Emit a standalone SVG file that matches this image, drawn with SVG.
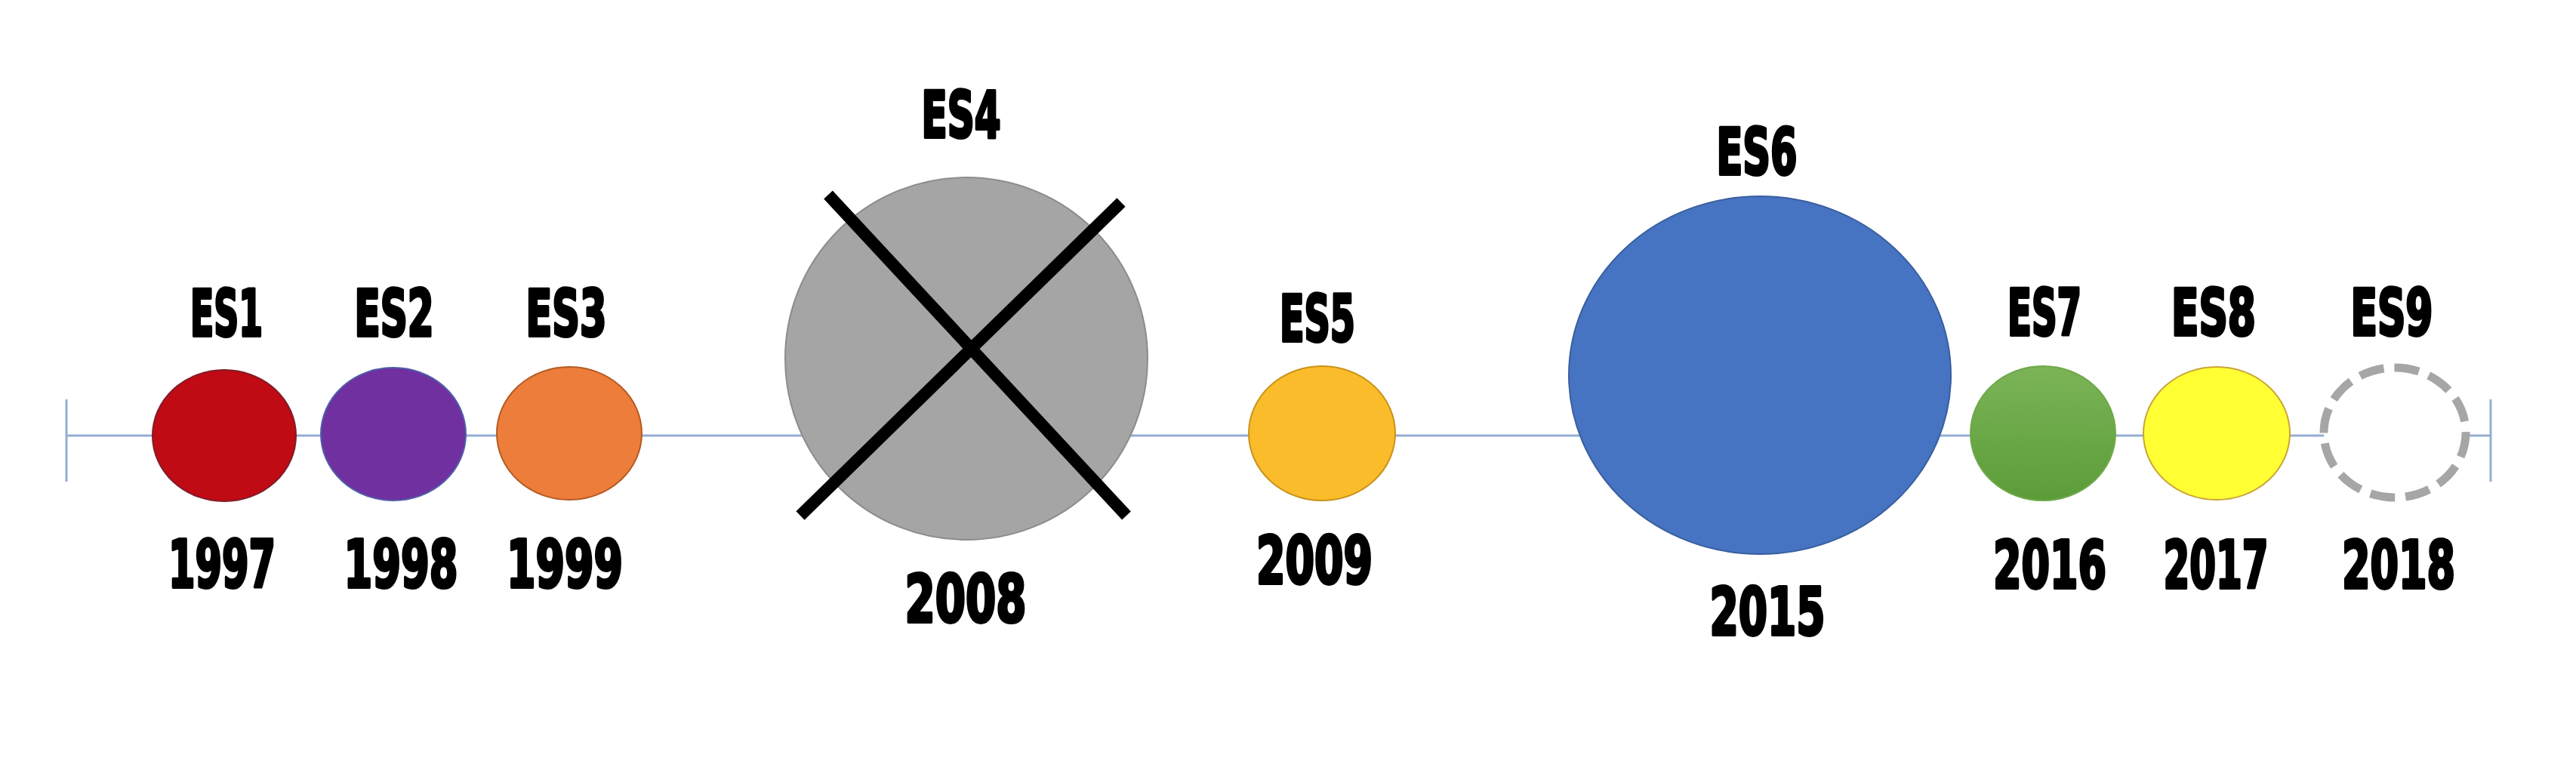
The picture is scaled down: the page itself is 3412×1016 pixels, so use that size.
<svg xmlns="http://www.w3.org/2000/svg" width="3412" height="1016" viewBox="0 0 3412 1016">
<style>
.lbl{font-family:"Liberation Sans Narrow","DejaVu Sans Condensed","Liberation Sans",sans-serif;font-weight:bold;fill:#000;stroke:#000;stroke-width:4;stroke-linejoin:round;text-anchor:middle}
.es{font-size:85px}
.yr{font-size:88px}
.axis{stroke:#94ADD2;stroke-width:3;fill:none}
.cross{stroke:#000;stroke-width:16;stroke-linecap:butt}
</style>
<defs>
<linearGradient id="gGreen" x1="0" y1="0" x2="0" y2="1">
<stop offset="0" stop-color="#7BB457"/>
<stop offset="1" stop-color="#5B9C38"/>
</linearGradient>
</defs>
<rect width="3412" height="1016" fill="#fff"/>
<g id="connectors">
<line class="axis" x1="88" y1="577" x2="3299" y2="577"/>
<line class="axis" x1="88" y1="529" x2="88" y2="638"/>
<line class="axis" x1="3299" y1="529" x2="3299" y2="638"/>
</g>
<g id="es1">
<ellipse cx="297" cy="577" rx="95" ry="87" fill="#C00A14" stroke="#7E1E2A" stroke-width="2"/>
<text class="lbl es" x="300" y="445" textLength="96" lengthAdjust="spacingAndGlyphs">ES1</text>
<text class="lbl yr" x="294" y="778" textLength="142" lengthAdjust="spacingAndGlyphs">1997</text>
</g>
<g id="es2">
<ellipse cx="521" cy="575" rx="96" ry="88" fill="#7030A0" stroke="#4F5FA8" stroke-width="2"/>
<text class="lbl es" x="522" y="445" textLength="105" lengthAdjust="spacingAndGlyphs">ES2</text>
<text class="lbl yr" x="531" y="778" textLength="151" lengthAdjust="spacingAndGlyphs">1998</text>
</g>
<g id="es3">
<ellipse cx="754" cy="574" rx="96" ry="88" fill="#ED7D3A" stroke="#B45A24" stroke-width="2"/>
<text class="lbl es" x="750" y="445" textLength="107" lengthAdjust="spacingAndGlyphs">ES3</text>
<text class="lbl yr" x="748" y="778" textLength="154" lengthAdjust="spacingAndGlyphs">1999</text>
</g>
<g id="es4">
<ellipse cx="1280" cy="475" rx="240" ry="240" fill="#A5A5A5" stroke="#8C8C8C" stroke-width="2"/>
<line class="cross" x1="1097" y1="258" x2="1492" y2="683"/>
<line class="cross" x1="1060" y1="683" x2="1485" y2="268"/>
<text class="lbl es" x="1273" y="182" font-size="81" textLength="105" lengthAdjust="spacingAndGlyphs">ES4</text>
<text class="lbl yr" x="1279" y="824" font-size="85" textLength="161" lengthAdjust="spacingAndGlyphs">2008</text>
</g>
<g id="es5">
<ellipse cx="1751" cy="574" rx="97" ry="89" fill="#FBBC2C" stroke="#C9941A" stroke-width="2"/>
<text class="lbl es" x="1745" y="452" textLength="100" lengthAdjust="spacingAndGlyphs">ES5</text>
<text class="lbl yr" x="1741" y="773" textLength="154" lengthAdjust="spacingAndGlyphs">2009</text>
</g>
<g id="es6">
<ellipse cx="2331" cy="497" rx="253" ry="237" fill="#4674C2" stroke="#3A5F9E" stroke-width="2"/>
<text class="lbl es" x="2327" y="231" font-size="83" textLength="107" lengthAdjust="spacingAndGlyphs">ES6</text>
<text class="lbl yr" x="2341" y="841" font-size="86" textLength="153" lengthAdjust="spacingAndGlyphs">2015</text>
</g>
<g id="es7">
<ellipse cx="2706" cy="574" rx="96" ry="89" fill="url(#gGreen)" stroke="#6FA84A" stroke-width="2"/>
<text class="lbl es" x="2708" y="444" textLength="98" lengthAdjust="spacingAndGlyphs">ES7</text>
<text class="lbl yr" x="2715" y="779" textLength="150" lengthAdjust="spacingAndGlyphs">2016</text>
</g>
<g id="es8">
<ellipse cx="2936" cy="574" rx="97" ry="88" fill="#FFFF33" stroke="#C9A53A" stroke-width="2"/>
<text class="lbl es" x="2932" y="444" textLength="112" lengthAdjust="spacingAndGlyphs">ES8</text>
<text class="lbl yr" x="2935" y="779" textLength="139" lengthAdjust="spacingAndGlyphs">2017</text>
</g>
<g id="es9">
<ellipse cx="3172" cy="573" rx="94" ry="86" fill="#fff" stroke="#A6A6A6" stroke-width="11" stroke-dasharray="33 14"/>
<text class="lbl es" x="3168" y="444" textLength="109" lengthAdjust="spacingAndGlyphs">ES9</text>
<text class="lbl yr" x="3177" y="779" textLength="150" lengthAdjust="spacingAndGlyphs">2018</text>
</g>
</svg>
